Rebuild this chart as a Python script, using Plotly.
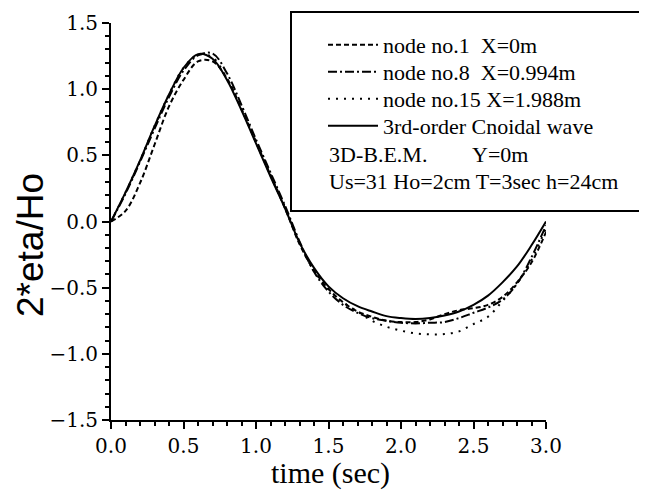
import plotly.graph_objects as go

# ---- data ----
t = [0.0, 0.1, 0.2, 0.3, 0.4, 0.5, 0.6, 0.7, 0.8, 0.9, 1.0, 1.1, 1.2, 1.3, 1.4, 1.5,
     1.6, 1.7, 1.8, 1.9, 2.0, 2.1, 2.2, 2.3, 2.4, 2.5, 2.6, 2.7, 2.8, 2.9, 3.0]

node1 = [0.0, 0.08, 0.29, 0.58, 0.87, 1.07, 1.21, 1.21, 1.08, 0.85, 0.60, 0.35, 0.10, -0.17,
         -0.37, -0.51, -0.61, -0.68, -0.72, -0.75, -0.76, -0.76, -0.74, -0.70, -0.67, -0.655,
         -0.63, -0.57, -0.46, -0.31, -0.08]

node8 = [0.0, 0.21, 0.45, 0.70, 0.94, 1.14, 1.255, 1.27, 1.12, 0.88, 0.62, 0.37, 0.12, -0.15,
         -0.38, -0.53, -0.63, -0.69, -0.73, -0.75, -0.765, -0.77, -0.765, -0.76, -0.73, -0.69,
         -0.65, -0.59, -0.47, -0.27, -0.03]

node15 = [0.0, 0.22, 0.46, 0.72, 0.96, 1.16, 1.26, 1.24, 1.08, 0.85, 0.60, 0.35, 0.11, -0.16,
          -0.37, -0.51, -0.61, -0.68, -0.75, -0.795, -0.825, -0.845, -0.853, -0.85, -0.83, -0.775,
          -0.72, -0.60, -0.47, -0.29, -0.05]

cnoidal = [0.0, 0.22, 0.46, 0.72, 0.96, 1.16, 1.265, 1.23, 1.07, 0.84, 0.59, 0.34, 0.10, -0.16,
           -0.35, -0.49, -0.58, -0.64, -0.68, -0.715, -0.73, -0.737, -0.73, -0.71, -0.68, -0.63,
           -0.56, -0.46, -0.34, -0.18, 0.0]

names = ["node no.1  X=0m", "node no.8  X=0.994m", "node no.15 X=1.988m", "3rd-order Cnoidal wave"]
info1 = "3D-B.E.M."
info1b = "Y=0m"
info2 = "Us=31 Ho=2cm T=3sec h=24cm"
x_title = "time (sec)"
y_title = "2*eta/Ho"
x_ticks = [0.0, 0.5, 1.0, 1.5, 2.0, 2.5, 3.0]
y_ticks = [-1.5, -1.0, -0.5, 0.0, 0.5, 1.0, 1.5]

SERIF = "Liberation Serif"
TICKFONT = "DejaVu Serif"
series = [node1, node8, node15, cnoidal]
dashes = ["5px,3px", "9px,3px,2px,3px", "2px,6px", "solid"]
legend_ids = ["legend", "legend2", "legend3", "legend4"]
legend_rows = [45, 72, 99, 126]

# page has an 8px body margin: figure is sized to fit the 647x496 window
O = 8
W, H = 647 - O, 496 - O
L, T = 111 - O, 23 - O
R = W - (546 - O)
B = H - (420 - O)
pw, ph = W - L - R, H - T - B

def px(sx):
    return (sx - O - L) / pw

def py(sy):
    return (H - B - (sy - O)) / ph

fig = go.Figure()
for name, y, d, lid in zip(names, series, dashes, legend_ids):
    fig.add_trace(go.Scatter(x=t, y=y, mode="lines", name=name, legend=lid,
                             line=dict(color="black", width=2, dash=d, shape="spline")))

layout_legends = {}
for lid, row in zip(legend_ids, legend_rows):
    layout_legends[lid] = dict(x=px(323), y=py(row), xanchor="left", yanchor="middle",
                               bgcolor="rgba(0,0,0,0)", borderwidth=0,
                               font=dict(family=SERIF, size=22, color="black"),
                               itemwidth=50)

axis_common = dict(showgrid=False, zeroline=False, showline=True, linecolor="black", linewidth=2,
                   ticks="outside", ticklen=7, tickwidth=2, tickcolor="black",
                   minor=dict(dtick=0.1, ticks="outside", ticklen=4, tickwidth=1.5,
                              tickcolor="black", showgrid=False),
                   tickfont=dict(family=TICKFONT, size=20, color="black"),
                   automargin=False)

fig.update_layout(
    width=W, height=H,
    margin=dict(l=L, r=R, t=T, b=B),
    paper_bgcolor="white", plot_bgcolor="white",
    font=dict(family=SERIF, color="black", size=21),
    showlegend=True,
    xaxis=dict(range=[0, 3], tickvals=x_ticks, ticktext=[f"{v:.1f}" for v in x_ticks], **axis_common),
    yaxis=dict(range=[-1.5, 1.5], tickvals=y_ticks,
               ticktext=[f"{v:.1f}".replace("-", "\u2212") for v in y_ticks], **axis_common),
    **layout_legends,
)

fig.add_shape(type="rect", xref="paper", yref="paper",
              x0=px(291), x1=px(670), y0=py(211), y1=py(12),
              line=dict(color="black", width=2), fillcolor="rgba(0,0,0,0)")

fig.add_annotation(xref="paper", yref="paper", x=px(327), y=py(154), xanchor="left", yanchor="middle",
                   text=info1, showarrow=False, font=dict(family=SERIF, size=22))
fig.add_annotation(xref="paper", yref="paper", x=px(470), y=py(154), xanchor="left", yanchor="middle",
                   text=info1b, showarrow=False, font=dict(family=SERIF, size=22))
fig.add_annotation(xref="paper", yref="paper", x=px(327), y=py(181), xanchor="left", yanchor="middle",
                   text=info2, showarrow=False, font=dict(family=SERIF, size=22))

fig.add_annotation(xref="paper", yref="paper", x=px(330), y=py(473), xanchor="center", yanchor="middle",
                   text=x_title, showarrow=False, font=dict(family=SERIF, size=30))
fig.add_annotation(xref="paper", yref="paper", x=px(30), y=py(245), xanchor="center", yanchor="middle",
                   text=y_title, textangle=-90, showarrow=False,
                   font=dict(family="Liberation Sans", size=37))

fig.write_html("out.html")
